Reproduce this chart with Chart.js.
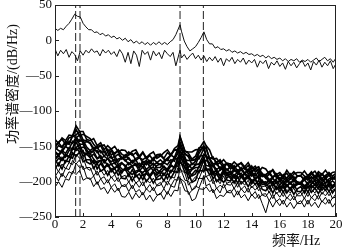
<!DOCTYPE html>
<html>
<head>
<meta charset="utf-8">
<script src="https://cdn.jsdelivr.net/npm/chart.js@4/dist/chart.umd.min.js"></script>
<style>
  html, body { margin: 0; padding: 0; background: #fff; }
  #psd { display: block; }
</style>
</head>
<body>
<canvas id="psd" width="342" height="248"></canvas>
<script>
// axis ticks
const xTicks = [0, 2, 4, 6, 8, 10, 12, 14, 16, 18, 20];
const xTickLabels = ['0', '2', '4', '6', '8', '10', '12', '14', '16', '18', '20'];
const yTicks = [50, 0, -50, -100, -150, -200, -250];
const yTickLabels = ['50', '0', '—50', '—100', '—150', '—200', '—250'];

// dashed marker lines (Hz)
const markerFreqs = [1.47, 1.78, 8.9, 10.56];

// frequency grid for the two upper curves
const upperFreq = [0,0.2,0.4,0.6,0.8,1,1.2,1.4,1.6,1.8,2,2.2,2.4,2.6,2.8,3,3.2,3.4,3.6,3.8,
  4,4.2,4.4,4.6,4.8,5,5.2,5.4,5.6,5.8,6,6.2,6.4,6.6,6.8,7,7.2,7.4,7.6,7.8,
  8,8.2,8.4,8.6,8.9,9,9.2,9.4,9.6,9.8,10,10.2,10.4,10.6,10.8,11,11.2,11.4,11.6,11.8,
  12,12.2,12.4,12.6,12.8,13,13.2,13.4,13.6,13.8,14,14.2,14.4,14.6,14.8,15,15.2,15.4,15.6,15.8,
  16,16.2,16.4,16.6,16.8,17,17.2,17.4,17.6,17.8,18,18.2,18.4,18.6,18.8,19,19.2,19.4,19.6,19.8,20];

const upperA = [17,14,17,15,20,24,30,37,34,33,24,19,15,15,11,12,8,10,6,8,
  4,6,2,4,0,3,-2,1,-4,-1,-5,-2,-6,-3,-7,-3,-6,-2,-6,-3,
  -6,-2,1,8,22,13,-1,-9,-15,-12,-9,-3,4,12,1,-5,-5,-11,-9,-13,
  -12,-15,-13,-17,-15,-18,-16,-19,-17,-20,-19,-22,-20,-23,-21,-25,-22,-26,-24,-27,
  -25,-29,-26,-30,-27,-29,-26,-31,-28,-30,-27,-31,-28,-25,-30,-27,-24,-29,-26,-31,-25];

const upperB = [-12,-22,-14,-19,-13,-24,-16,-20,-29,-15,-21,-14,-18,-12,-17,-15,-22,-13,-18,-14,
  -20,-16,-23,-13,-19,-31,-17,-33,-15,-21,-37,-14,-20,-16,-28,-15,-22,-17,-26,-14,
  -19,-23,-17,-36,-14,-25,-20,-27,-22,-18,-26,-21,-28,-22,-30,-24,-29,-23,-31,-25,
  -36,-26,-30,-24,-33,-27,-31,-25,-34,-28,-32,-27,-38,-29,-33,-28,-40,-31,-35,-29,
  -37,-32,-41,-30,-36,-31,-39,-33,-29,-37,-32,-42,-30,-35,-28,-38,-31,-36,-29,-40,-33];

// frequency grid for the lower bundle
const lowerFreq = [0,0.25,0.5,0.75,1,1.25,1.5,1.75,2,2.25,2.5,2.75,3,3.25,3.5,3.75,4,4.25,4.5,4.75,
  5,5.25,5.5,5.75,6,6.25,6.5,6.75,7,7.25,7.5,7.75,8,8.25,8.5,8.75,8.9,9.25,9.5,9.75,
  10,10.25,10.6,10.75,11,11.25,11.5,11.75,12,12.25,12.5,12.75,13,13.25,13.5,13.75,14,14.25,14.5,14.75,
  15,15.25,15.5,15.75,16,16.25,16.5,16.75,17,17.25,17.5,17.75,18,18.25,18.5,18.75,19,19.25,19.5,19.75,20];

const lower01 = [-140,-146,-138,-142,-134,-135,-121,-129,-129,-140, -142,-139,-149,-145,-155,-149,-154,-150,-158,-155,
  -156,-162,-157,-155,-164,-158,-166,-161,-158,-167, -164,-159,-155,-162,-153,-149,-136,-157,-158,-158,
  -155,-154,-143,-149,-155,-168,-167,-174,-169,-175, -178,-172,-177,-173,-179,-173,-182,-178,-186,-180,
  -182,-189,-183,-190,-187,-193,-184,-191,-186,-192, -191,-185,-192,-186,-193,-186,-190,-184,-191,-187, -186];
const lower02 = [-149,-144,-140,-147,-138,-136,-126,-135,-133,-136, -139,-147,-153,-149,-148,-157,-154,-161,-155,-161,
  -164,-158,-163,-159,-166,-159,-168,-163,-170,-162, -161,-167,-159,-163,-155,-154,-137,-157,-160,-168,
  -164,-152,-151,-151,-168,-166,-173,-169,-177,-174, -175,-181,-176,-174,-182,-177,-185,-181,-179,-190,
  -190,-186,-184,-194,-190,-193,-188,-196,-189,-187, -187,-192,-195,-189,-185,-193,-189,-194,-187,-192, -188];
const lower03 = [-151,-145,-151,-143,-147,-135,-134,-129,-141,-142, -145,-153,-150,-149,-159,-154,-162,-159,-157,-167,
  -166,-162,-160,-170,-166,-169,-165,-173,-166,-164, -163,-168,-170,-162,-155,-156,-144,-162,-163,-170,
  -169,-156,-152,-153,-167,-165,-176,-173,-181,-174, -175,-182,-176,-183,-179,-186,-178,-186,-182,-190,
  -191,-186,-194,-189,-198,-191,-195,-189,-196,-192, -192,-197,-191,-188,-195,-189,-196,-191,-188,-197, -190];
const lower04 = [-156,-149,-152,-145,-147,-135,-138,-134,-146,-143, -146,-155,-151,-159,-157,-164,-156,-165,-161,-168,
  -162,-168,-172,-167,-165,-173,-170,-175,-168,-173, -169,-174,-167,-162,-166,-153,-152,-160,-165,-176,
  -171,-160,-149,-164,-167,-175,-173,-183,-176,-175, -182,-177,-185,-180,-188,-182,-187,-182,-190,-188,
  -195,-189,-194,-190,-197,-190,-198,-193,-200,-192, -192,-198,-191,-197,-192,-198,-189,-196,-191,-197, -192];
const lower05 = [-151,-156,-158,-150,-143,-146,-137,-143,-141,-151, -156,-152,-159,-156,-164,-158,-167,-164,-172,-165,
  -171,-166,-174,-169,-178,-171,-176,-170,-177,-173, -176,-171,-167,-174,-165,-161,-148,-169,-170,-170,
  -168,-168,-153,-165,-168,-179,-173,-182,-177,-184, -178,-184,-188,-183,-180,-189,-186,-192,-186,-193,
  -192,-198,-193,-191,-200,-194,-201,-196,-193,-202, -201,-194,-198,-193,-198,-191,-199,-194,-201,-193, -198];
const lower06 = [-157,-162,-155,-150,-154,-143,-145,-141,-143,-157, -158,-156,-156,-167,-164,-168,-164,-174,-168,-167,
  -169,-176,-170,-177,-174,-180,-172,-179,-174,-180, -180,-173,-176,-169,-171,-157,-157,-165,-180,-174,
  -176,-164,-163,-163,-178,-176,-183,-179,-185,-182, -188,-182,-187,-183,-189,-183,-192,-188,-196,-190,
  -191,-197,-201,-196,-194,-202,-198,-203,-196,-201, -202,-197,-194,-203,-197,-200,-195,-203,-196,-194, -197];
const lower07 = [-158,-164,-156,-160,-152,-153,-139,-147,-147,-158, -160,-157,-167,-163,-173,-167,-172,-168,-176,-173,
  -179,-173,-178,-174,-181,-174,-183,-178,-185,-177, -175,-180,-182,-174,-167,-168,-156,-174,-175,-182,
  -176,-175,-161,-164,-178,-177,-187,-184,-180,-190, -189,-185,-183,-193,-188,-192,-188,-197,-191,-191,
  -194,-201,-195,-202,-199,-205,-196,-203,-198,-204, -203,-197,-204,-198,-205,-198,-202,-196,-203,-199, -203];
const lower08 = [-167,-162,-158,-165,-156,-154,-144,-153,-151,-154, -165,-161,-168,-165,-173,-167,-176,-173,-181,-174,
  -177,-183,-178,-176,-185,-179,-187,-182,-179,-188, -184,-178,-184,-176,-180,-166,-162,-169,-184,-182,
  -176,-175,-170,-170,-173,-186,-185,-192,-183,-189, -185,-192,-186,-193,-189,-196,-188,-196,-192,-200,
  -203,-197,-202,-198,-205,-198,-206,-201,-208,-200, -202,-207,-201,-198,-205,-199,-206,-201,-198,-207, -200];
const lower09 = [-169,-163,-169,-161,-165,-153,-152,-147,-159,-160, -160,-168,-174,-170,-169,-178,-175,-182,-176,-182,
  -184,-180,-178,-188,-184,-187,-183,-191,-184,-182, -189,-182,-185,-178,-180,-166,-166,-174,-189,-183,
  -180,-180,-165,-177,-178,-189,-183,-192,-185,-192, -189,-195,-190,-188,-196,-191,-199,-195,-193,-204,
  -203,-198,-206,-201,-210,-203,-207,-201,-208,-204, -201,-206,-209,-203,-199,-207,-203,-208,-201,-206, -202];
const lower10 = [-174,-167,-170,-163,-165,-153,-156,-152,-164,-161, -166,-174,-171,-170,-180,-175,-183,-180,-178,-188,
  -180,-186,-190,-185,-183,-191,-188,-193,-186,-191, -185,-191,-183,-187,-179,-178,-161,-181,-184,-192,
  -189,-178,-167,-182,-182,-190,-188,-198,-188,-187, -196,-190,-195,-191,-197,-191,-200,-196,-204,-198,
  -206,-202,-200,-210,-206,-209,-204,-212,-205,-203, -204,-210,-203,-209,-204,-210,-201,-208,-203,-209, -204];
const lower11 = [-168,-177,-166,-173,-164,-167,-152,-158,-156,-172, -175,-170,-182,-174,-182,-175,-186,-181,-191,-184,
  -182,-192,-183,-193,-189,-197,-188,-193,-186,-197, -196,-188,-196,-184,-186,-171,-173,-179,-196,-190,
  -184,-187,-169,-184,-183,-196,-189,-196,-186,-198, -199,-192,-202,-193,-199,-192,-203,-197,-207,-201,
  -200,-210,-201,-211,-207,-215,-205,-210,-203,-214, -214,-206,-215,-205,-210,-202,-212,-205,-214,-206, -203];
const lower12 = [-182,-174,-182,-170,-172,-159,-164,-158,-172,-169, -169,-181,-174,-185,-182,-191,-182,-189,-183,-195,
  -196,-189,-199,-190,-197,-189,-200,-193,-202,-194, -190,-199,-188,-195,-186,-187,-169,-187,-188,-201,
  -198,-184,-185,-181,-190,-187,-200,-195,-201,-194, -192,-202,-193,-203,-198,-207,-198,-204,-198,-211,
  -213,-206,-216,-207,-214,-206,-216,-209,-218,-210, -207,-216,-206,-215,-209,-217,-207,-212,-205,-216, -209];
const lower13 = [-177,-186,-175,-182,-173,-176,-161,-167,-165,-181, -184,-179,-191,-183,-191,-184,-195,-190,-200,-193,
  -191,-201,-192,-202,-198,-206,-197,-202,-195,-206, -205,-197,-205,-193,-195,-180,-182,-188,-205,-199,
  -193,-196,-178,-193,-190,-203,-196,-203,-192,-204, -205,-198,-208,-199,-205,-198,-209,-203,-213,-207,
  -206,-216,-207,-217,-213,-221,-211,-216,-209,-220, -220,-212,-221,-211,-216,-208,-218,-211,-220,-212, -210];
const lower14 = [-193,-185,-193,-181,-183,-170,-175,-169,-183,-180, -180,-192,-185,-196,-193,-202,-193,-200,-194,-206,
  -207,-200,-210,-201,-208,-200,-211,-204,-213,-205, -201,-210,-199,-206,-197,-198,-180,-198,-199,-212,
  -209,-195,-196,-192,-200,-197,-210,-205,-209,-202, -200,-210,-201,-211,-206,-215,-206,-212,-206,-219,
  -221,-214,-224,-215,-222,-214,-224,-217,-226,-218, -215,-224,-214,-223,-217,-225,-215,-220,-213,-224, -217];
const lower15 = [-190,-199,-188,-195,-186,-189,-174,-180,-178,-194, -197,-192,-204,-196,-204,-197,-208,-203,-213,-206,
  -204,-214,-205,-215,-211,-219,-210,-215,-208,-219, -218,-210,-218,-206,-208,-193,-195,-201,-218,-212,
  -206,-209,-191,-206,-203,-216,-209,-216,-203,-215, -216,-209,-219,-210,-216,-209,-220,-214,-224,-218,
  -217,-227,-218,-228,-224,-232,-222,-227,-220,-231, -231,-223,-232,-222,-227,-219,-229,-222,-231,-223, -222];
const lower16 = [-208,-200,-208,-196,-198,-185,-190,-184,-198,-195, -195,-207,-200,-211,-208,-217,-208,-215,-209,-221,
  -222,-215,-225,-216,-223,-215,-226,-219,-228,-220, -216,-225,-214,-221,-212,-213,-195,-213,-214,-227,
  -224,-210,-211,-207,-214,-211,-224,-219,-221,-214, -212,-222,-213,-223,-218,-227,-218,-224,-218,-231,
  -244,-226,-236,-227,-234,-226,-236,-229,-238,-230, -227,-236,-226,-235,-229,-237,-227,-232,-225,-236, -229];

// the dense upper part of the bundle and the few low outliers
const denseSeries = [lower01, lower02, lower03, lower04, lower05, lower06, lower07, lower08,
  lower09, lower10, lower11, lower12];
const outlierSeries = [lower13, lower14, lower15, lower16];

const serifFont = '"Liberation Serif", "DejaVu Serif", "Noto Sans CJK SC", serif';

function toPoints(freqs, vals) {
  return vals.map((v, i) => ({ x: freqs[i], y: v }));
}

function lineSet(points, color, width, dash) {
  return {
    data: points,
    borderColor: color,
    borderWidth: width,
    borderDash: dash || [],
    pointRadius: 0,
    tension: 0,
    fill: false
  };
}

const datasets = [];
denseSeries.forEach(s => datasets.push(lineSet(toPoints(lowerFreq, s), '#000', 1.6)));
outlierSeries.forEach(s => datasets.push(lineSet(toPoints(lowerFreq, s), '#000', 1)));
datasets.push(lineSet(toPoints(upperFreq, upperB), '#111', 1));
datasets.push(lineSet(toPoints(upperFreq, upperA), '#111', 1));
markerFreqs.forEach(f => datasets.push(lineSet([{ x: f, y: yTicks[yTicks.length - 1] }, { x: f, y: yTicks[0] }], '#222', 1, [8, 3])));

// frame, inward ticks and axis titles
const framePlugin = {
  id: 'frame',
  afterDatasetsDraw(chart) {
    const { ctx, chartArea: a, scales } = chart;
    ctx.save();
    ctx.strokeStyle = '#222';
    ctx.lineWidth = 1;
    ctx.strokeRect(Math.round(a.left) + 0.5, Math.round(a.top) + 0.5,
      Math.round(a.right - a.left) - 1, Math.round(a.bottom - a.top) - 1);
    ctx.beginPath();
    scales.x.ticks.forEach((t, i) => {
      const px = Math.round(scales.x.getPixelForTick(i)) + 0.5;
      ctx.moveTo(px, a.bottom);
      ctx.lineTo(px, a.bottom - 4);
    });
    scales.y.ticks.forEach((t, i) => {
      const py = Math.round(scales.y.getPixelForTick(i)) + 0.5;
      ctx.moveTo(a.left, py);
      ctx.lineTo(a.left + 4, py);
    });
    ctx.stroke();

    ctx.fillStyle = '#111';
    ctx.font = '14px ' + serifFont;
    ctx.textAlign = 'center';
    ctx.textBaseline = 'middle';
    ctx.fillText('频率/Hz', a.right - 40, 241);
    ctx.translate(13, 84);
    ctx.rotate(-Math.PI / 2);
    ctx.fillText('功率谱密度/(dB/Hz)', 0, 0);
    ctx.restore();
  }
};

new Chart(document.getElementById('psd'), {
  type: 'line',
  data: { datasets: datasets },
  options: {
    responsive: false,
    animation: false,
    events: [],
    layout: { padding: { top: 5, right: 6, left: 0, bottom: 0 } },
    plugins: { legend: { display: false }, tooltip: { enabled: false } },
    scales: {
      x: {
        type: 'linear',
        min: 0,
        max: 20,
        afterBuildTicks: s => { s.ticks = xTicks.map(v => ({ value: v })); },
        afterFit: s => { s.height = 31; s.paddingLeft = 0; s.paddingRight = 0; },
        grid: { display: false, drawTicks: false },
        border: { display: false },
        ticks: {
          padding: 0,
          color: '#111',
          font: { family: serifFont, size: 13 },
          maxRotation: 0,
          callback: (v, i) => xTickLabels[i]
        }
      },
      y: {
        type: 'linear',
        min: -250,
        max: 50,
        afterBuildTicks: s => { s.ticks = yTicks.map(v => ({ value: v })); },
        afterFit: s => { s.width = 55; s.paddingTop = 0; s.paddingBottom = 0; },
        grid: { display: false, drawTicks: false },
        border: { display: false },
        ticks: {
          padding: 3,
          color: '#111',
          font: { family: serifFont, size: 13 },
          callback: (v, i) => yTickLabels[i]
        }
      }
    }
  },
  plugins: [framePlugin]
});
</script>
</body>
</html>
